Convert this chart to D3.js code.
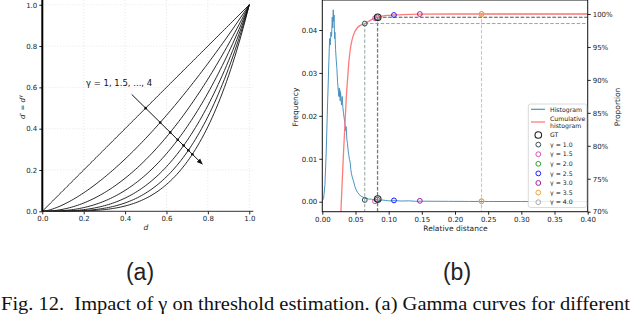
<!DOCTYPE html>
<html>
<head>
<meta charset="utf-8">
<title></title>
<script src="https://d3js.org/d3.v7.min.js"></script>
<style>
  body { margin: 0; background: #fff; }
  svg { display: block; }
  text { font-family: "DejaVu Sans", sans-serif; }
  .tick text { font-size: 7px; fill: #222; }
  .tick line { stroke: #222; }
  .domain { display: none; }
</style>
</head>
<body>
<script>
// ---- data: (a) gamma curves ----
const gammas = [1, 1.5, 2, 2.5, 3, 3.5, 4];
const curveD = d3.range(0, 1.0001, 0.01);
const arrowFrom = [0.432, 0.566];
const arrowTo = [0.773, 0.229];
const aTicks = [0, 0.2, 0.4, 0.6, 0.8, 1.0];

// ---- data: (b) histogram ----
const histDist = [0, 0.002, 0.004, 0.006, 0.008, 0.010, 0.011, 0.012, 0.013, 0.014, 0.015, 0.0158, 0.0165, 0.017, 0.0178, 0.0185, 0.019, 0.020, 0.021, 0.022, 0.023, 0.024, 0.025, 0.0255, 0.026, 0.0265, 0.027, 0.0275, 0.028, 0.029, 0.030, 0.031, 0.032, 0.033, 0.034, 0.035, 0.036, 0.037, 0.038, 0.039, 0.040, 0.041, 0.042, 0.043, 0.044, 0.045, 0.047, 0.049, 0.051, 0.053, 0.055, 0.058, 0.061, 0.064, 0.067, 0.070, 0.074, 0.078, 0.082, 0.086, 0.090, 0.095, 0.100, 0.110, 0.120, 0.130, 0.140, 0.150, 0.170, 0.190, 0.220, 0.250, 0.300, 0.350, 0.400];
const histFreq = [0.0002, 0.0008, 0.004, 0.012, 0.023, 0.033, 0.038, 0.0365, 0.0395, 0.0385, 0.043, 0.0405, 0.0447, 0.042, 0.0435, 0.038, 0.0395, 0.0355, 0.033, 0.031, 0.028, 0.026, 0.0245, 0.0265, 0.0245, 0.026, 0.0235, 0.0255, 0.0245, 0.0225, 0.0245, 0.022, 0.0205, 0.0195, 0.0183, 0.0165, 0.0175, 0.0145, 0.0135, 0.0118, 0.0108, 0.0098, 0.0092, 0.0075, 0.0065, 0.0058, 0.0048, 0.0036, 0.0028, 0.0022, 0.0018, 0.0013, 0.0011, 0.0008, 0.0008, 0.0006, 0.0006, 0.0004, 0.0005, 0.0003, 0.0004, 0.0003, 0.0002, 0.00025, 0.00015, 0.0002, 0.0001, 0.00012, 0.0001, 0.00008, 0.00006, 0.00005, 0.00004, 0.00003, 0.00002];
const cumDist = [0.020, 0.025, 0.028, 0.030, 0.032, 0.034, 0.036, 0.038, 0.040, 0.042, 0.044, 0.046, 0.049, 0.052, 0.056, 0.060, 0.064, 0.070, 0.077, 0.083, 0.090, 0.100, 0.108, 0.120, 0.147, 0.200, 0.400];
const cumProp = [0.50, 0.62, 0.70, 0.745, 0.79, 0.83, 0.87, 0.90, 0.927, 0.945, 0.957, 0.965, 0.973, 0.978, 0.982, 0.984, 0.9855, 0.989, 0.993, 0.995, 0.9968, 0.998, 0.9985, 0.9992, 0.9998, 1.0, 1.0];

// markers: GT first, then gamma = 1.0 ... 4.0
const markerNames = ["GT", "γ = 1.0", "γ = 1.5", "γ = 2.0", "γ = 2.5", "γ = 3.0", "γ = 3.5", "γ = 4.0"];
const markerColors = ["#222222", "#2f4f4f", "#e34bbd", "#2ca02c", "#1a1aff", "#a020a0", "#f5a623", "#aaaaaa"];
const markerDist = [0.0835, 0.064, 0.0794, 0.083, 0.108, 0.147, 0.240, 0.240];
const markerProp = [0.995, 0.9855, 0.9935, 0.995, 0.9985, 1.0, 1.0, 1.0];
const markerFreq = [0.0006, 0.0004, 0.0001, 0.0005, 0.0003, 0.0002, 0.0001, 0.0001];
const bXTicks = [0, 0.05, 0.10, 0.15, 0.20, 0.25, 0.30, 0.35, 0.40];
const bYTicks = [0, 0.01, 0.02, 0.03, 0.04];
const bPTicks = [0.70, 0.75, 0.80, 0.85, 0.90, 0.95, 1.00];

const svg = d3.select("body").append("svg").attr("width", 640).attr("height", 314);

// arrowhead
svg.append("defs").append("marker")
  .attr("id", "ah").attr("viewBox", "0 0 10 10").attr("refX", 9).attr("refY", 5)
  .attr("markerWidth", 6).attr("markerHeight", 6).attr("orient", "auto")
  .append("path").attr("d", "M0,1 L10,5 L0,9 Z").attr("fill", "#111");

// ================= (a) =================
const ax = d3.scaleLinear().domain([0, 1.02]).range([42.3, 253.4]);
const ay = d3.scaleLinear().domain([0, 1.023]).range([211.3, 0]);
const ga = svg.append("g");

// dotted grid
ga.selectAll(".gx").data(aTicks.slice(1)).enter().append("line")
  .attr("x1", d => ax(d)).attr("x2", d => ax(d)).attr("y1", 0).attr("y2", ay(0))
  .attr("stroke", "#ddd").attr("stroke-width", 0.7).attr("stroke-dasharray", "1,2");
ga.selectAll(".gy").data(aTicks.slice(1)).enter().append("line")
  .attr("x1", ax(0)).attr("x2", ax(1.02)).attr("y1", d => ay(d)).attr("y2", d => ay(d))
  .attr("stroke", "#ddd").attr("stroke-width", 0.7).attr("stroke-dasharray", "1,2");

ga.append("g").attr("transform", "translate(0," + ay(0) + ")")
  .call(d3.axisBottom(ax).tickValues(aTicks).tickFormat(d3.format(".1f")).tickSize(3).tickPadding(2));
ga.append("g").attr("transform", "translate(" + ax(0) + ",0)")
  .call(d3.axisLeft(ay).tickValues(aTicks).tickFormat(d3.format(".1f")).tickSize(3).tickPadding(2));

const line = d3.line().x(d => ax(d[0])).y(d => ay(d[1]));
ga.selectAll(".curve").data(gammas).enter().append("path")
  .attr("d", g => line(curveD.map(d => [d, Math.pow(d, g)])))
  .attr("fill", "none").attr("stroke", "#111").attr("stroke-width", 0.9);

// spines
ga.append("line").attr("x1", ax(0)).attr("x2", ax(1.02)).attr("y1", ay(0)).attr("y2", ay(0))
  .attr("stroke", "#333").attr("stroke-width", 1);
ga.append("line").attr("x1", ax(0)).attr("x2", ax(0)).attr("y1", 0).attr("y2", ay(0))
  .attr("stroke", "#000").attr("stroke-width", 2);

// arrow and crossing dots
ga.append("line")
  .attr("x1", ax(arrowFrom[0])).attr("y1", ay(arrowFrom[1]))
  .attr("x2", ax(arrowTo[0])).attr("y2", ay(arrowTo[1]))
  .attr("stroke", "#111").attr("stroke-width", 1).attr("marker-end", "url(#ah)");
const slope = (arrowTo[1] - arrowFrom[1]) / (arrowTo[0] - arrowFrom[0]);
const crossings = gammas.map(g => {
  let lo = arrowFrom[0], hi = arrowTo[0];
  for (let i = 0; i < 40; i++) {
    const m = (lo + hi) / 2;
    const f = Math.pow(m, g) - (arrowFrom[1] + slope * (m - arrowFrom[0]));
    if (f < 0) lo = m; else hi = m;
  }
  return [lo, Math.pow(lo, g)];
});
ga.selectAll(".dot").data(crossings).enter().append("circle")
  .attr("cx", d => ax(d[0])).attr("cy", d => ay(d[1])).attr("r", 1.3).attr("fill", "#111");

ga.append("text").attr("x", ax(0.211)).attr("y", ay(0.607))
  .attr("font-size", 8.5).attr("fill", "#111").text("γ = 1, 1.5, ..., 4");

const ylab = ga.append("text").attr("transform", "translate(25,107) rotate(-90)")
  .attr("text-anchor", "middle").attr("font-size", 7).attr("fill", "#222");
ylab.append("tspan").attr("font-style", "italic").text("d");
ylab.append("tspan").text("′ = ");
ylab.append("tspan").attr("font-style", "italic").text("d");
ylab.append("tspan").attr("font-style", "italic").attr("font-size", 5).attr("dy", -3).text("γ");
ga.append("text").attr("x", ax(0.5)).attr("y", 230).attr("text-anchor", "middle")
  .attr("font-size", 7.5).attr("font-style", "italic").attr("fill", "#222").text("d");

// ================= (b) =================
const bx = d3.scaleLinear().domain([0, 0.4]).range([322.3, 587.7]);
const by = d3.scaleLinear().domain([0, 0.04]).range([201.7, 30]);
const bp = d3.scaleLinear().domain([0.70, 1.00]).range([211.7, 14]);
const bTop = 0, bBottom = 211.7;
const gb = svg.append("g");

gb.append("defs").append("clipPath").attr("id", "bclip").append("rect")
  .attr("x", bx(0)).attr("y", bTop).attr("width", bx(0.4) - bx(0)).attr("height", bBottom - bTop);

gb.append("g").attr("transform", "translate(0," + bBottom + ")")
  .call(d3.axisBottom(bx).tickValues(bXTicks).tickFormat(d3.format(".2f")).tickSize(3).tickPadding(2));
gb.append("g").attr("transform", "translate(" + bx(0) + ",0)")
  .call(d3.axisLeft(by).tickValues(bYTicks).tickFormat(d3.format(".2f")).tickSize(3).tickPadding(2));
gb.append("g").attr("transform", "translate(" + bx(0.4) + ",0)")
  .call(d3.axisRight(bp).tickValues(bPTicks).tickFormat(d3.format(".0%")).tickSize(3).tickPadding(2));

const plot = gb.append("g").attr("clip-path", "url(#bclip)");

// dashed guide lines
const guides = [
  { x: markerDist[1], p: markerProp[1], c: "#93a89f" },
  { x: markerDist[3], p: markerProp[3], c: "#93a89f" },
  { x: markerDist[0], p: markerProp[0], c: "#6f6f6f" },
  { x: markerDist[6], p: markerProp[6], c: "#c4c4c4" }
];
plot.selectAll(".gv").data(guides).enter().append("line")
  .attr("x1", d => bx(d.x)).attr("x2", d => bx(d.x)).attr("y1", d => bp(d.p)).attr("y2", bBottom)
  .attr("stroke", d => d.c).attr("stroke-width", 1).attr("stroke-dasharray", "3.5,1.8");
plot.selectAll(".gh").data(guides).enter().append("line")
  .attr("x1", d => bx(d.x)).attr("x2", bx(0.4)).attr("y1", d => bp(d.p)).attr("y2", d => bp(d.p))
  .attr("stroke", d => d.c).attr("stroke-width", 1).attr("stroke-dasharray", "3.5,1.8");

const hLine = d3.line().x(d => bx(d[0])).y(d => by(d[1]));
plot.append("path").attr("d", hLine(d3.zip(histDist, histFreq)))
  .attr("fill", "none").attr("stroke", "#4a93bf").attr("stroke-width", 1);
const cLine = d3.line().curve(d3.curveMonotoneX).x(d => bx(d[0])).y(d => bp(d[1]));
plot.append("path").attr("d", cLine(d3.zip(cumDist, cumProp)))
  .attr("fill", "none").attr("stroke", "#ff7a7a").attr("stroke-width", 1.3);

// markers on both curves (draw gammas first, GT on top)
const order = [7, 6, 5, 4, 3, 2, 1, 0];
order.forEach(i => {
  const r = i === 0 ? 3.3 : 2.4;
  [[bx(markerDist[i]), bp(markerProp[i])], [bx(markerDist[i]), by(markerFreq[i])]].forEach(pt => {
    plot.append("circle").attr("cx", pt[0]).attr("cy", pt[1]).attr("r", r)
      .attr("fill", "none").attr("stroke", markerColors[i]).attr("stroke-width", i === 0 ? 1.1 : 1);
  });
});

// frame
gb.append("rect").attr("x", bx(0)).attr("y", bTop).attr("width", bx(0.4) - bx(0)).attr("height", bBottom - bTop)
  .attr("fill", "none").attr("stroke", "#111").attr("stroke-width", 1);

// legend
const lg = gb.append("g");
lg.append("rect").attr("x", 528.3).attr("y", 104).attr("width", 58.4).attr("height", 103.5).attr("rx", 2)
  .attr("fill", "#fff").attr("fill-opacity", 0.85).attr("stroke", "#d0d0d0").attr("stroke-width", 0.8);
lg.append("line").attr("x1", 531).attr("x2", 545).attr("y1", 109.3).attr("y2", 109.3)
  .attr("stroke", "#4a93bf").attr("stroke-width", 1.2);
lg.append("text").attr("x", 550).attr("y", 111.5).attr("font-size", 6.2).attr("fill", "#222").text("Histogram");
lg.append("line").attr("x1", 531).attr("x2", 545).attr("y1", 122).attr("y2", 122)
  .attr("stroke", "#ff7a7a").attr("stroke-width", 1.3);
lg.append("text").attr("x", 550).attr("y", 120.5).attr("font-size", 6.2).attr("fill", "#222").text("Cumulative");
lg.append("text").attr("x", 550).attr("y", 127.9).attr("font-size", 6.2).attr("fill", "#222").text("histogram");
markerNames.forEach((n, i) => {
  const yy = 135 + i * 9.6;
  lg.append("circle").attr("cx", 538.3).attr("cy", yy).attr("r", i === 0 ? 3.3 : 2.4)
    .attr("fill", "none").attr("stroke", markerColors[i]).attr("stroke-width", i === 0 ? 1.1 : 1);
  lg.append("text").attr("x", 550).attr("y", yy + 2.2).attr("font-size", 6.2).attr("fill", "#222").text(n);
});

gb.append("text").attr("transform", "translate(298,107) rotate(-90)").attr("text-anchor", "middle")
  .attr("font-size", 7.5).attr("fill", "#222").text("Frequency");
gb.append("text").attr("transform", "translate(620,107) rotate(-90)").attr("text-anchor", "middle")
  .attr("font-size", 7.5).attr("fill", "#222").text("Proportion");
gb.append("text").attr("x", 455.5).attr("y", 230.5).attr("text-anchor", "middle")
  .attr("font-size", 7.5).attr("fill", "#222").text("Relative distance");

// ================= captions =================
svg.append("text").attr("x", 140).attr("y", 280).attr("text-anchor", "middle")
  .style("font-family", "'Liberation Sans', Arial, sans-serif").attr("font-size", 23).attr("fill", "#222").text("(a)");
svg.append("text").attr("x", 457).attr("y", 280).attr("text-anchor", "middle")
  .style("font-family", "'Liberation Sans', Arial, sans-serif").attr("font-size", 23).attr("fill", "#222").text("(b)");
svg.append("text").attr("x", 1).attr("y", 309.5).attr("textLength", 629).attr("lengthAdjust", "spacingAndGlyphs")
  .style("font-family", "'Liberation Serif', 'Times New Roman', serif").attr("font-size", 19.5).attr("fill", "#111")
  .text("Fig. 12.\u00a0 Impact of \u03b3 on threshold estimation. (a) Gamma curves for different");
</script>
</body>
</html>
